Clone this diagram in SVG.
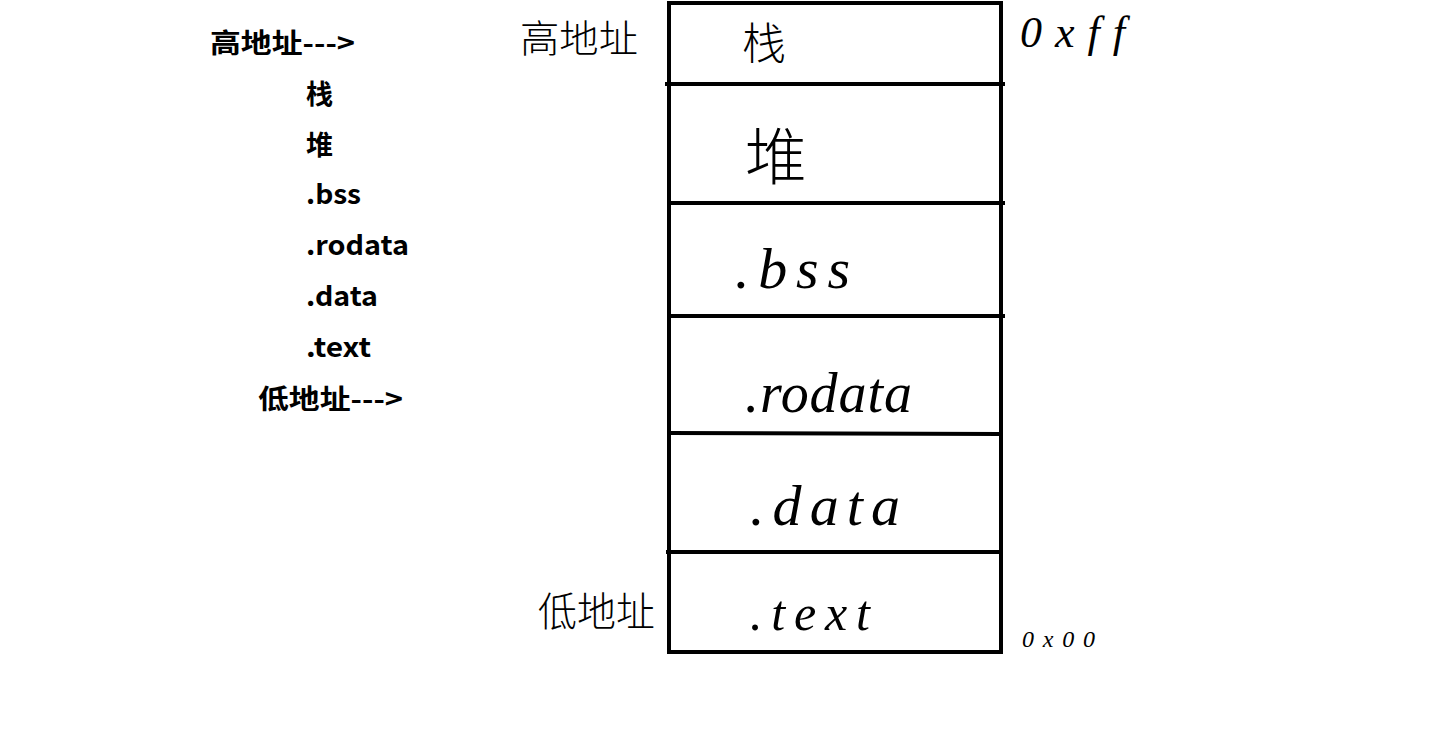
<svg xmlns="http://www.w3.org/2000/svg" width="1434" height="737" viewBox="0 0 1434 737">
<style>
.lst{font-family:"Noto Sans CJK SC","Liberation Sans",sans-serif;font-weight:bold;font-size:27px;fill:#000}
.hw{font-family:"Liberation Serif","Noto Sans CJK SC",serif;font-style:italic;font-weight:300;fill:#000}
.hwc{font-family:"Noto Sans CJK SC",sans-serif;font-weight:300;fill:#000}
.ln{stroke:#000;stroke-width:4;fill:none}
</style>
<rect width="1434" height="737" fill="#fff"/>
<g id="list">
<text class="lst" x="210" y="53" textLength="145" lengthAdjust="spacingAndGlyphs">高地址---&gt;</text>
<text class="lst" x="306" y="104">栈</text>
<text class="lst" x="306" y="155">堆</text>
<text class="lst" x="306" y="204" textLength="55" lengthAdjust="spacingAndGlyphs">.bss</text>
<text class="lst" x="306" y="255" textLength="103" lengthAdjust="spacingAndGlyphs">.rodata</text>
<text class="lst" x="306" y="306" textLength="72" lengthAdjust="spacingAndGlyphs">.data</text>
<text class="lst" x="306" y="357" textLength="65" lengthAdjust="spacingAndGlyphs">.text</text>
<text class="lst" x="258" y="409" textLength="145" lengthAdjust="spacingAndGlyphs">低地址---&gt;</text>
</g>
<g id="memory-box">
<rect class="ln" x="669" y="3" width="332" height="649"/>
<line class="ln" x1="665" y1="84" x2="1005" y2="84"/>
<line class="ln" x1="669" y1="203" x2="1005" y2="203"/>
<line class="ln" x1="669" y1="316" x2="1005" y2="316"/>
<line class="ln" x1="669" y1="433" x2="1001" y2="434"/>
<line class="ln" x1="666" y1="552" x2="1001" y2="552"/>
</g>
<g id="seg-stack"><text class="hwc" x="742" y="60" font-size="44">栈</text></g>
<g id="seg-heap"><text class="hwc" x="745" y="180" font-size="62">堆</text></g>
<g id="seg-bss"><text class="hw" x="735" y="288" font-size="58" textLength="115" lengthAdjust="spacing">.bss</text></g>
<g id="seg-rodata"><text class="hw" x="745" y="412" font-size="56" textLength="167" lengthAdjust="spacing">.rodata</text></g>
<g id="seg-data"><text class="hw" x="750" y="525" font-size="58" textLength="150" lengthAdjust="spacing">.data</text></g>
<g id="seg-text"><text class="hw" x="750" y="630" font-size="50" textLength="120" lengthAdjust="spacing">.text</text></g>
<g id="labels">
<text class="hwc" x="520" y="52" font-size="38" textLength="118" lengthAdjust="spacingAndGlyphs">高地址</text>
<text class="hw" x="1020" y="47" font-size="44" textLength="105" lengthAdjust="spacing">0xff</text>
<text class="hwc" x="538" y="626" font-size="40" textLength="117" lengthAdjust="spacingAndGlyphs">低地址</text>
<text class="hw" x="1022" y="647" font-size="24" textLength="73" lengthAdjust="spacing">0x00</text>
</g>
</svg>
